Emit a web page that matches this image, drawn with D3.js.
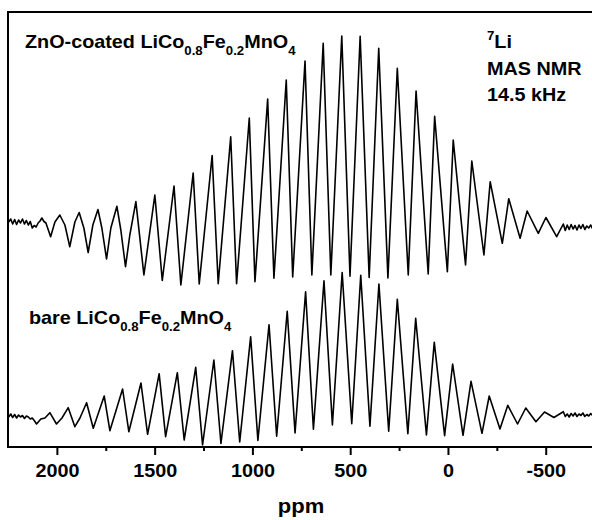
<!DOCTYPE html>
<html>
<head>
<meta charset="utf-8">
<script src="https://cdn.jsdelivr.net/npm/d3@7"></script>
<style>
  body { margin: 0; background: #fff; }
  text { font-family: "Liberation Sans", Arial, sans-serif; font-weight: bold; fill: #000; }
</style>
</head>
<body>
<div id="chart"></div>
<script>
// tick values (ppm)
const majorTicks = [2000, 1500, 1000, 500, 0, -500];
const minorTicks = [1750, 1250, 750, 250, -250];

// ZnO-coated sample (ppm, intensity above its own baseline)
const coatedPpm = [2246, 2236, 2226, 2216, 2206, 2196, 2186, 2176, 2166, 2156,
    2146, 2136, 2126, 2116, 2106, 2096, 2086, 2077, 2066, 2056,
    2032, 2010, 1985, 1959, 1934, 1908, 1886, 1862, 1840, 1816,
    1790, 1770, 1746, 1724, 1693, 1673, 1649, 1627, 1596, 1555,
    1499, 1461, 1401, 1366, 1303, 1272, 1206, 1175, 1111, 1081,
    1016, 987, 922, 890, 827, 794, 731, 696, 638, 599,
    543, 501, 449, 403, 354, 307, 259, 203, 163, 101,
    68, 3, -27, -90, -122, -184, -216, -278, -311, -369,
    -405, -462, -501, -556, -590, -600, -610, -620, -630, -640,
    -650, -660, -670, -680, -690, -700, -710, -720, -730, -740,
    -748];
const coatedIntensity = [2, 5, 0, 4.5, -0.5, 4, 1, 5, 0, 3.5,
    -1, 2.5, -4, -1.5, -3, 1, 3, 6, 2.5, 1,
    -12.7, 2, 9, -1, -22.7, 2, 11.5, -4, -28.5, -1,
    14.5, -4, -35, -4, 17.7, -6, -42.7, -11, 22.4, -51,
    29, -56.5, 38, -61, 51, -60, 68.5, -59.7, 87.3, -59.7,
    106, -57.7, 125, -54.3, 144, -53, 163, -51, 180.7, -51,
    188, -52.3, 187.7, -53.5, 175.7, -54, 155.7, -51, 133, -50,
    107.7, -47.7, 84, -41, 63, -31, 42.3, -19.3, 25.3, -14.3,
    13, -9.3, 6.5, -12.7, 0, -6.5, -1, -5.5, -0.5, -5,
    -1.5, -6, -1, -4.5, -0.5, -5.5, -2, -4, -1, -5,
    -2];

// bare sample
const barePpm = [2246, 2236, 2226, 2216, 2206, 2196, 2186, 2176, 2166, 2156,
    2146, 2136, 2126, 2116, 2104, 2082, 2061,
    2036, 2002, 1974, 1942, 1908, 1882, 1848, 1814, 1758, 1729,
    1664, 1632, 1570, 1536, 1477, 1444, 1384, 1349, 1290, 1255,
    1197, 1161, 1102, 1065, 1009, 972, 915, 876, 822, 782,
    728, 688, 634, 591, 541, 492, 446, 399, 353, 303,
    259, 205, 165, 110, 70, 17, -24, -77, -118, -174,
    -211, -266, -306, -356, -398, -450, -494, -542, -590, -600,
    -610, -620, -630, -640, -650, -660, -670, -680, -690, -700,
    -710, -720, -730, -740, -748];
const bareIntensity = [-1, 2, -1.5, 1.5, -2, 1, -1, 0.5, -2.5, 0,
    -1, -3, -2, -4.5, -8, -3, -2,
    3.3, -8, -2, 8.3, -10.7, -2, 13.3, -12.3, 20, -14.7,
    27, -15.7, 33, -18.3, 42.3, -20.7, 43.3, -24, 48.7, -29,
    56, -27.5, 65.3, -26, 79.3, -24.5, 91.3, -20.3, 104.7, -17,
    124.3, -13.3, 135.3, -9, 143.5, -7.8, 140.7, -10.3, 132, -15.2,
    116.7, -17.6, 97.7, -19, 73.8, -19.7, 52, -19.3, 34.7, -17.3,
    20, -13, 10.7, -8, 8, -5.7, 4, -1.5, 4.3, -0.5,
    2, -1, 2.5, 0, 3, -0.5, 2, 0.5, 3, -0.5,
    1.5, 0, 2.5, 0.5, 1.5];

// vertical stacking of the two spectra
const coatedOffset = 223;
const bareOffset = 31;

const width = 592, height = 520;
const svg = d3.select("#chart").append("svg")
    .attr("width", width)
    .attr("height", height);

const x = d3.scaleLinear().domain([2250, -750]).range([8, 594.6]);
const y = d3.scaleLinear().domain([0, 435]).range([447, 12]);

// frame (right edge falls just outside the picture)
svg.append("rect")
    .attr("x", x(2250)).attr("y", y(435))
    .attr("width", x(-750) - x(2250)).attr("height", y(0) - y(435))
    .attr("fill", "none").attr("stroke", "#000").attr("stroke-width", 2);

const line = d3.line();

function drawSpectrum(ppm, inten, offset) {
    const pts = ppm.map((p, i) => [x(p), y(inten[i] + offset)]);
    svg.append("path")
        .attr("d", line(pts))
        .attr("fill", "none")
        .attr("stroke", "#000")
        .attr("stroke-width", 1.6)
        .attr("stroke-linejoin", "round");
}
drawSpectrum(coatedPpm, coatedIntensity, coatedOffset);
drawSpectrum(barePpm, bareIntensity, bareOffset);

// x axis
const xAxis = svg.append("g")
    .attr("transform", `translate(0,${y(0)})`)
    .call(d3.axisBottom(x).tickValues(majorTicks).tickSize(8).tickPadding(9)
        .tickFormat(d => String(d)));
xAxis.select(".domain").remove();
xAxis.selectAll("line").attr("stroke-width", 2);
xAxis.selectAll("text")
    .attr("font-size", 18)
    .attr("font-family", null)
    .attr("transform", "scale(1.1,1)");

const minor = svg.append("g")
    .attr("transform", `translate(0,${y(0)})`)
    .call(d3.axisBottom(x).tickValues(minorTicks).tickSize(4).tickFormat(""));
minor.select(".domain").remove();
minor.selectAll("line").attr("stroke-width", 2);

// axis title
svg.append("text")
    .attr("transform", "translate(301,513) scale(1.1,1)")
    .attr("text-anchor", "middle")
    .attr("font-size", 20)
    .text("ppm");

// labels with sub/superscripts
function formula(xp, yp, parts, sx) {
    const t = svg.append("text")
        .attr("transform", `translate(${xp},${yp}) scale(${sx},1)`)
        .attr("font-size", 18);
    let shift = 0;
    parts.forEach(p => {
        const want = p.sub ? 7 : p.sup ? -8 : 0;
        t.append("tspan")
            .attr("dy", want - shift)
            .attr("font-size", (p.sub || p.sup) ? 12 : 18)
            .text(p.t);
        shift = want;
    });
}
formula(25, 48, [{t: "ZnO-coated LiCo"}, {t: "0.8", sub: true}, {t: "Fe"},
    {t: "0.2", sub: true}, {t: "MnO"}, {t: "4", sub: true}], 1.1);
formula(29, 324, [{t: "bare LiCo"}, {t: "0.8", sub: true}, {t: "Fe"},
    {t: "0.2", sub: true}, {t: "MnO"}, {t: "4", sub: true}], 1.1);

// experiment note
formula(487, 48, [{t: "7", sup: true}, {t: "Li"}], 1.1);
formula(487, 75, [{t: "MAS NMR"}], 1.1);
formula(487, 101, [{t: "14.5 kHz"}], 1.1);
</script>
</body>
</html>
